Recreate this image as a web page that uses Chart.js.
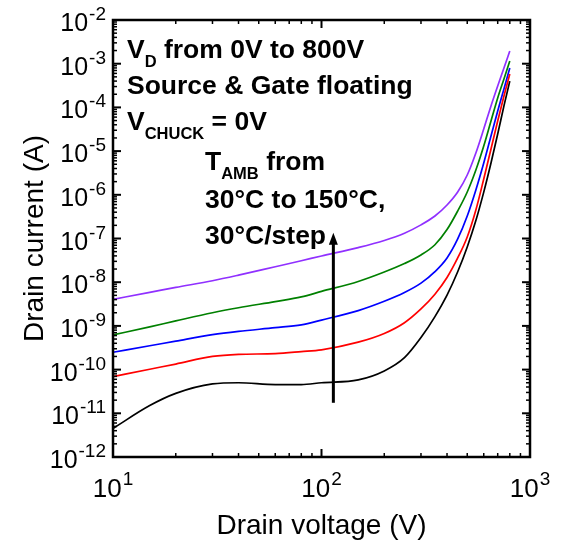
<!DOCTYPE html>
<html>
<head>
<meta charset="utf-8">
<script src="https://cdn.jsdelivr.net/npm/chart.js@4.4.0/dist/chart.umd.min.js"></script>
<style>
  body { margin: 0; background: #fff; }
  #wrap { width: 564px; height: 553px; }
</style>
</head>
<body>
<div id="wrap"><canvas id="grafico" width="564" height="553"></canvas></div>
<script>
// tensão de dreno (V) - eixo x
const tensao = [10, 15, 20, 30, 40, 60, 80, 100, 150, 200, 250, 300, 350, 400, 450, 500, 550, 600, 650, 700, 750, 800];

// corrente de dreno (A) por temperatura
const corrente30 = [4.5e-12, 1.5e-11, 2.85e-11, 4.7e-11, 5.0e-11, 4.55e-11, 4.55e-11, 5.0e-11, 5.8e-11, 9.3e-11, 1.87e-10, 5.4e-10, 1.63e-9, 5.05e-9, 1.73e-8, 6.4e-8, 2.57e-7, 1.15e-6, 5.34e-6, 2.46e-5, 1.08e-4, 4.0e-4];
const corrente60 = [6.9e-11, 1.02e-10, 1.34e-10, 2.0e-10, 2.23e-10, 2.32e-10, 2.58e-10, 2.84e-10, 4.24e-10, 6.7e-10, 1.18e-9, 2.44e-9, 5.3e-9, 1.28e-8, 3.58e-8, 1.08e-7, 4.49e-7, 2.3e-6, 1.12e-5, 4.89e-5, 1.82e-4, 5.8e-4];
const corrente90 = [2.49e-10, 3.51e-10, 4.49e-10, 6.3e-10, 7.5e-10, 9.1e-10, 1.06e-9, 1.36e-9, 2.24e-9, 3.66e-9, 5.8e-9, 9.5e-9, 1.74e-8, 3.58e-8, 9.75e-8, 3.27e-7, 1.29e-6, 5.34e-6, 2.22e-5, 8.28e-5, 2.64e-4, 8.0e-4];
const corrente120 = [6.2e-10, 9.5e-10, 1.3e-9, 2.0e-9, 2.6e-9, 3.6e-9, 4.6e-9, 6.15e-9, 1.04e-8, 1.71e-8, 2.67e-8, 4.2e-8, 7.2e-8, 1.6e-7, 4.26e-7, 1.16e-6, 3.7e-6, 1.31e-5, 4.89e-5, 1.64e-4, 4.47e-4, 1.15e-3];
const corrente150 = [4.06e-9, 5.85e-9, 7.6e-9, 1.08e-8, 1.45e-8, 2.26e-8, 3.1e-8, 3.98e-8, 6.2e-8, 9.0e-8, 1.32e-7, 2.05e-7, 3.27e-7, 5.85e-7, 1.16e-6, 2.84e-6, 9.05e-6, 3.21e-5, 1.08e-4, 3.09e-4, 7.98e-4, 1.95e-3];

const series = [corrente30, corrente60, corrente90, corrente120, corrente150];
const nomesSeries = ['30°C', '60°C', '90°C', '120°C', '150°C'];
const coresSeries = ['#000000', '#ff0000', '#0000ff', '#008000', '#9030ff'];

// expoentes dos rótulos dos eixos
const expoentesX = [1, 2, 3];
const expoentesY = [-12, -11, -10, -9, -8, -7, -6, -5, -4, -3, -2];

// seta de temperatura (V, A)
const setaTensao = 114;
const setaInicio = 1.74e-11;
const setaFim = 1.35e-7;

const fonte = '"Liberation Sans", Arial, sans-serif';

function potencia(ctx, exp, x, y, alinhar, tamBase, tamSup, subir) {
    ctx.font = tamBase + 'px ' + fonte;
    let wBase = ctx.measureText('10').width;
    ctx.font = tamSup + 'px ' + fonte;
    let wSup = ctx.measureText(String(exp)).width;
    let total = wBase + 1 + wSup;
    let x0 = alinhar === 'right' ? x - total : x - total / 2;
    ctx.textAlign = 'left';
    ctx.font = tamBase + 'px ' + fonte;
    ctx.fillText('10', x0, y);
    ctx.font = tamSup + 'px ' + fonte;
    ctx.fillText(String(exp), x0 + wBase + 1, y - subir);
}

function textoMisto(ctx, partes, x, y) {
    ctx.textAlign = 'left';
    partes.forEach(function (p) {
        ctx.font = 'bold ' + (p.sub ? 16.5 : 26.5) + 'px ' + fonte;
        ctx.fillText(p.t, x, p.sub ? y + 9 : y);
        x += ctx.measureText(p.t).width;
    });
}

const eixosPlugin = {
    id: 'eixos',
    afterDraw(chart) {
        const ctx = chart.ctx;
        const a = chart.chartArea;
        const sx = chart.scales.x;
        const sy = chart.scales.y;
        ctx.save();
        ctx.strokeStyle = '#000';
        ctx.fillStyle = '#000';
        ctx.lineCap = 'butt';

        function linha(x1, y1, x2, y2, w) {
            ctx.lineWidth = w;
            ctx.beginPath();
            ctx.moveTo(x1, y1);
            ctx.lineTo(x2, y2);
            ctx.stroke();
        }

        // marcas do eixo x (baixo e cima)
        expoentesX.forEach(function (e) {
            for (let m = 1; m <= 9; m++) {
                let v = m * Math.pow(10, e);
                if (v > sx.max * 1.0001) break;
                let px = sx.getPixelForValue(v);
                let len = m === 1 ? 8 : 4;
                let w = m === 1 ? 2 : 1.5;
                linha(px, a.bottom, px, a.bottom - len, w);
                linha(px, a.top, px, a.top + len, w);
            }
        });
        // marcas do eixo y (esquerda e direita)
        expoentesY.forEach(function (e) {
            for (let m = 1; m <= 9; m++) {
                let v = m * Math.pow(10, e);
                if (v > sy.max * 1.0001) break;
                let py = sy.getPixelForValue(v);
                let len = m === 1 ? 8 : 4;
                let w = m === 1 ? 2 : 1.5;
                linha(a.left, py, a.left + len, py, w);
                linha(a.right, py, a.right - len, py, w);
            }
        });

        ctx.lineWidth = 2.5;
        ctx.strokeRect(a.left, a.top, a.right - a.left, a.bottom - a.top);

        // rótulos
        ctx.textBaseline = 'alphabetic';
        expoentesY.forEach(function (e) {
            let py = sy.getPixelForValue(Math.pow(10, e));
            potencia(ctx, e, a.left - 7, py + 11, 'right', 25, 19, 11);
        });
        expoentesX.forEach(function (e) {
            let px = sx.getPixelForValue(Math.pow(10, e));
            potencia(ctx, e, px, a.bottom + 40, 'center', 26, 19, 12);
        });

        // títulos dos eixos
        ctx.font = '28px ' + fonte;
        ctx.textAlign = 'center';
        ctx.fillText('Drain voltage (V)', (a.left + a.right) / 2, a.bottom + 77);
        ctx.save();
        ctx.translate(43, (a.top + a.bottom) / 2);
        ctx.rotate(-Math.PI / 2);
        ctx.fillText('Drain current (A)', 0, 0);
        ctx.restore();

        // anotações
        textoMisto(ctx, [{ t: 'V' }, { t: 'D', sub: true }, { t: ' from 0V to 800V' }], a.left + 14, a.top + 38);
        textoMisto(ctx, [{ t: 'Source & Gate floating' }], a.left + 14, a.top + 74);
        textoMisto(ctx, [{ t: 'V' }, { t: 'CHUCK', sub: true }, { t: ' = 0V' }], a.left + 14, a.top + 110);
        textoMisto(ctx, [{ t: 'T' }, { t: 'AMB', sub: true }, { t: ' from' }], a.left + 92, a.top + 150);
        textoMisto(ctx, [{ t: '30°C to 150°C,' }], a.left + 92, a.top + 188);
        textoMisto(ctx, [{ t: '30°C/step' }], a.left + 92, a.top + 224);

        // seta
        let axp = sx.getPixelForValue(setaTensao);
        let y1 = sy.getPixelForValue(setaInicio);
        let y2 = sy.getPixelForValue(setaFim);
        linha(axp, y1, axp, y2 + 10, 3);
        ctx.beginPath();
        ctx.moveTo(axp, y2);
        ctx.lineTo(axp - 4.5, y2 + 12);
        ctx.lineTo(axp + 4.5, y2 + 12);
        ctx.closePath();
        ctx.fill();

        ctx.restore();
    }
};

const ctx = document.getElementById('grafico').getContext('2d');

new Chart(ctx, {
    type: 'line',
    data: {
        datasets: series.map(function (s, i) {
            return {
                label: nomesSeries[i],
                data: tensao.map(function (v, j) { return { x: v, y: s[j] }; }),
                borderColor: coresSeries[i],
                borderWidth: 1.7,
                pointRadius: 0,
                cubicInterpolationMode: 'monotone',
                fill: false
            };
        })
    },
    options: {
        responsive: false,
        animation: false,
        devicePixelRatio: 1,
        layout: { padding: { left: 113, top: 20, right: 34, bottom: 96 } },
        plugins: {
            legend: { display: false },
            tooltip: { enabled: false }
        },
        scales: {
            x: { type: 'logarithmic', min: 10, max: 1000, display: false },
            y: { type: 'logarithmic', min: 1e-12, max: 1e-2, display: false }
        }
    },
    plugins: [eixosPlugin]
});
</script>
</body>
</html>
